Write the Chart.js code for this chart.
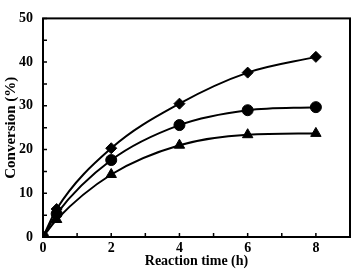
<!DOCTYPE html>
<html>
<head>
<meta charset="utf-8">
<script src="https://cdn.jsdelivr.net/npm/chart.js@4"></script>
<style>
  body { margin: 0; background: #fff; }
  #wrap { width: 357px; height: 276px; }
</style>
</head>
<body>
<div id="wrap"><canvas id="conv"></canvas></div>
<script>
const times = [0, 0.4, 2, 4, 6, 8];
const diamondSeries = [0, 6.4, 20.3, 30.5, 37.6, 41.2];
const circleSeries = [0, 5.3, 17.6, 25.6, 29.0, 29.7];
const triangleSeries = [0, 4.0, 14.3, 21.0, 23.4, 23.7];

const font = { family: '"Liberation Serif", "Times New Roman", serif', weight: 'bold' };

function toPoints(ys) {
    return times.map((t, i) => ({ x: t, y: ys[i] }));
}

function series(label, ys, style, radius) {
    return {
        label: label,
        data: toPoints(ys),
        borderColor: '#000',
        backgroundColor: '#000',
        borderWidth: 2,
        pointStyle: style,
        pointRadius: radius,
        pointBorderWidth: 1,
        cubicInterpolationMode: 'monotone',
        fill: false
    };
}

// ticks pointing into the plot + box frame
const frame = {
    id: 'frame',
    afterDraw(chart) {
        const ctx = chart.ctx;
        const a = chart.chartArea;
        const xs = chart.scales.x, ys = chart.scales.y;
        ctx.save();
        ctx.strokeStyle = '#000';
        ctx.lineWidth = 2;
        ctx.strokeRect(a.left, a.top, a.right - a.left, a.bottom - a.top);
        ctx.lineWidth = 1.5;
        ctx.beginPath();
        xs.ticks.forEach(t => {
            const px = xs.getPixelForValue(t.value);
            ctx.moveTo(px, a.bottom);
            ctx.lineTo(px, a.bottom - 4);
        });
        ys.ticks.forEach(t => {
            const py = ys.getPixelForValue(t.value);
            ctx.moveTo(a.left, py);
            ctx.lineTo(a.left + 4, py);
        });
        ctx.stroke();
        ctx.restore();
    }
};

new Chart(document.getElementById('conv'), {
    type: 'line',
    data: {
        datasets: [
            series('diamond', diamondSeries, 'rectRot', 5.5),
            series('circle', circleSeries, 'circle', 5.5),
            series('triangle', triangleSeries, 'triangle', 6)
        ]
    },
    options: {
        responsive: true,
        maintainAspectRatio: false,
        animation: false,
        layout: { padding: { left: 2, right: 1, top: 4, bottom: 0 } },
        plugins: { legend: { display: false }, tooltip: { enabled: false } },
        scales: {
            x: {
                type: 'linear',
                min: 0,
                max: 9,
                grid: { display: false, drawTicks: false },
                border: { display: false },
                ticks: {
                    stepSize: 1,
                    padding: 3,
                    color: '#000',
                    font: { ...font, size: 14 },
                    callback: v => (v % 2 === 0 && v <= 8) ? v : ''
                },
                title: {
                    display: true,
                    text: 'Reaction time (h)',
                    color: '#000',
                    font: { ...font, size: 14 },
                    padding: { top: 0, bottom: 6 }
                },
                afterFit: s => { s.height = 39; }
            },
            y: {
                min: 0,
                max: 50,
                grid: { display: false, drawTicks: false },
                border: { display: false },
                ticks: {
                    stepSize: 5,
                    padding: 10,
                    color: '#000',
                    font: { ...font, size: 14 },
                    callback: v => v % 10 === 0 ? v : ''
                },
                title: {
                    display: true,
                    text: 'Conversion (%)',
                    color: '#000',
                    font: { ...font, size: 15 },
                    padding: { top: 0, bottom: 2 }
                },
                afterFit: s => { s.width = 41; }
            }
        }
    },
    plugins: [frame]
});
</script>
</body>
</html>
